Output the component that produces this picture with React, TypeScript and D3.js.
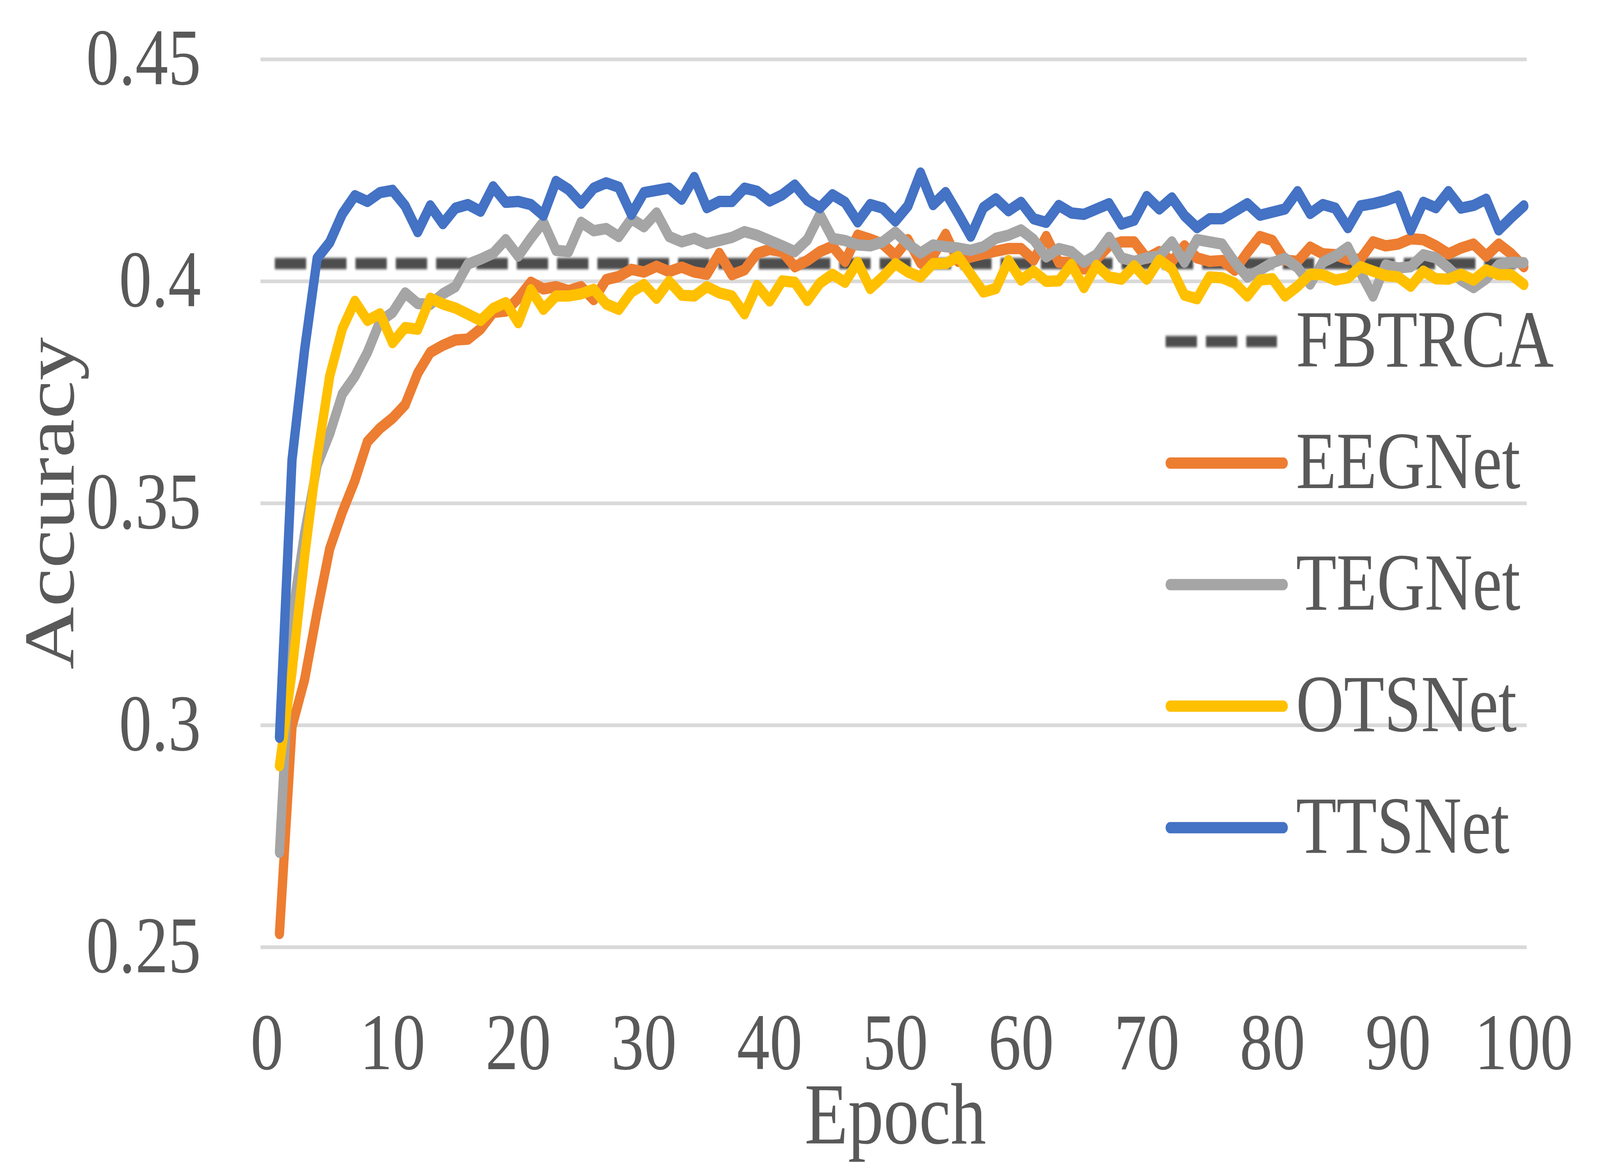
import React, { useEffect } from 'react';
import * as d3 from 'd3';

// epochs 1..100
const epochs = d3.range(1, 101);

const seriesNames = ['FBTRCA', 'EEGNet', 'TEGNet', 'OTSNet', 'TTSNet'];
const seriesColors = ['#4d4d4d', '#ED7D31', '#A5A5A5', '#FFC000', '#4472C4'];

// FBTRCA is a single reference accuracy (dashed line)
const fbtrcaAcc = 0.404;

const eegnet = [
  0.2531, 0.2997, 0.3103, 0.3256, 0.3398, 0.3480, 0.3551, 0.3639, 0.3669, 0.3692,
  0.3722, 0.3793, 0.3840, 0.3856, 0.3868, 0.3870, 0.3893, 0.3930, 0.3933, 0.3962,
  0.3998, 0.3983, 0.3988, 0.3979, 0.3988, 0.3959, 0.4004, 0.4011, 0.4027, 0.4021,
  0.4034, 0.4022, 0.4032, 0.4021, 0.4016, 0.4063, 0.4015, 0.4026, 0.4063, 0.4072,
  0.4067, 0.4033, 0.4047, 0.4067, 0.4079, 0.4045, 0.4104, 0.4095, 0.4084, 0.4058,
  0.4094, 0.4042, 0.4057, 0.4106, 0.4045, 0.4055, 0.4062, 0.4068, 0.4074, 0.4074,
  0.4048, 0.4101, 0.4043, 0.4042, 0.4028, 0.4050, 0.4080, 0.4089, 0.4089, 0.4052,
  0.4067, 0.4045, 0.4080, 0.4053, 0.4045, 0.4047, 0.4025, 0.4065, 0.4101, 0.4092,
  0.4048, 0.4045, 0.4077, 0.4062, 0.4060, 0.4050, 0.4050, 0.4089, 0.4080, 0.4084,
  0.4096, 0.4094, 0.4080, 0.4062, 0.4075, 0.4084, 0.4057, 0.4084, 0.4062, 0.4033,
];

const tegnet = [
  0.2714, 0.3244, 0.3433, 0.3586, 0.3657, 0.3746, 0.3786, 0.3840, 0.3910, 0.3930,
  0.3974, 0.3950, 0.3948, 0.3972, 0.3988, 0.4039, 0.4050, 0.4063, 0.4094, 0.4057,
  0.4097, 0.4134, 0.4070, 0.4067, 0.4133, 0.4114, 0.4119, 0.4101, 0.4141, 0.4123,
  0.4154, 0.4101, 0.4089, 0.4097, 0.4085, 0.4092, 0.4099, 0.4112, 0.4104, 0.4092,
  0.4080, 0.4067, 0.4094, 0.4151, 0.4097, 0.4092, 0.4082, 0.4080, 0.4089, 0.4111,
  0.4084, 0.4064, 0.4082, 0.4078, 0.4075, 0.4070, 0.4078, 0.4097, 0.4104, 0.4116,
  0.4094, 0.4055, 0.4074, 0.4067, 0.4043, 0.4060, 0.4099, 0.4053, 0.4045, 0.4053,
  0.4057, 0.4089, 0.4043, 0.4094, 0.4089, 0.4084, 0.4043, 0.4010, 0.4025, 0.4042,
  0.4052, 0.4031, 0.3994, 0.4043, 0.4057, 0.4077, 0.4020, 0.3967, 0.4037, 0.4030,
  0.4033, 0.4060, 0.4053, 0.4030, 0.4003, 0.3986, 0.4006, 0.4037, 0.4043, 0.4042,
];

const otsnet = [
  0.2909, 0.3120, 0.3380, 0.3604, 0.3787, 0.3893, 0.3955, 0.3912, 0.3927, 0.3862,
  0.3896, 0.3892, 0.3962, 0.3949, 0.3940, 0.3926, 0.3912, 0.3939, 0.3952, 0.3907,
  0.3981, 0.3937, 0.3967, 0.3967, 0.3972, 0.3982, 0.3949, 0.3937, 0.3976, 0.3993,
  0.3962, 0.4000, 0.3969, 0.3967, 0.3988, 0.3974, 0.3967, 0.3927, 0.3991, 0.3956,
  0.4001, 0.3998, 0.3957, 0.3996, 0.4016, 0.3998, 0.4043, 0.3984, 0.4010, 0.4040,
  0.4021, 0.4010, 0.4040, 0.4040, 0.4056, 0.4016, 0.3976, 0.3984, 0.4047, 0.4003,
  0.4023, 0.4000, 0.4001, 0.4038, 0.3986, 0.4036, 0.4010, 0.4005, 0.4035, 0.4005,
  0.4048, 0.4028, 0.3969, 0.3961, 0.4010, 0.4008, 0.3996, 0.3967, 0.4003, 0.4006,
  0.3967, 0.3989, 0.4016, 0.4015, 0.4003, 0.4008, 0.4033, 0.4023, 0.4013, 0.4010,
  0.3989, 0.4023, 0.4006, 0.4005, 0.4016, 0.4003, 0.4026, 0.4015, 0.4015, 0.3993,
];

const ttsnet = [
  0.2973, 0.3598, 0.3846, 0.4052, 0.4088, 0.4152, 0.4193, 0.4180, 0.4200, 0.4205,
  0.4170, 0.4112, 0.4170, 0.4130, 0.4165, 0.4173, 0.4158, 0.4213, 0.4178, 0.4180,
  0.4173, 0.4149, 0.4225, 0.4207, 0.4176, 0.4210, 0.4222, 0.4212, 0.4151, 0.4200,
  0.4205, 0.4210, 0.4185, 0.4234, 0.4166, 0.4180, 0.4180, 0.4210, 0.4203, 0.4181,
  0.4195, 0.4217, 0.4183, 0.4166, 0.4195, 0.4178, 0.4134, 0.4173, 0.4165, 0.4136,
  0.4170, 0.4244, 0.4173, 0.4200, 0.4152, 0.4102, 0.4166, 0.4186, 0.4159, 0.4178,
  0.4141, 0.4133, 0.4171, 0.4154, 0.4151, 0.4163, 0.4175, 0.4129, 0.4138, 0.4191,
  0.4163, 0.4188, 0.4148, 0.4121, 0.4141, 0.4141, 0.4158, 0.4175, 0.4149, 0.4156,
  0.4163, 0.4202, 0.4153, 0.4173, 0.4165, 0.4121, 0.4170, 0.4175, 0.4182, 0.4192,
  0.4116, 0.4178, 0.4166, 0.4202, 0.4165, 0.4171, 0.4185, 0.4116, 0.4144, 0.4170,
];

const yTicks = [0.25, 0.3, 0.35, 0.4, 0.45];
const xTicks = [0, 10, 20, 30, 40, 50, 60, 70, 80, 90, 100];

const W = 5000;
const H = 2994;
const FONT = '"Liberation Serif", "Times New Roman", serif';
const TEXT = '#595959';

const App: React.FC = () => {
  useEffect(() => {
    document.body.style.margin = '0';
    document.body.style.overflow = 'hidden';
  }, []);

  const x = d3.scaleLinear().domain([0, 100]).range([834, 4762]);
  const y = d3.scaleLinear().domain([0.25, 0.45]).range([2424, 152]);
  const gridLeft = 814;
  const gridRight = 4771;

  const line = d3
    .line<number>()
    .x((d, i) => x(epochs[i]))
    .y(d => y(d));

  const solidSeries = [eegnet, tegnet, otsnet, ttsnet];

  const legendX0 = 3657;
  const legendX1 = 4010;
  const legendTop = 874;
  const legendStep = 311;

  return (
    <svg
      viewBox={`0 0 ${W} ${H}`}
      preserveAspectRatio="none"
      style={{ display: 'block', width: '100vw', height: '100vh' }}
    >
      <defs>
        <filter id="soft" filterUnits="userSpaceOnUse" x={0} y={0} width={W} height={H}>
          <feGaussianBlur stdDeviation="3" />
        </filter>
      </defs>
      <rect width={W} height={H} fill="#ffffff" />

      {/* gridlines */}
      {yTicks.map(t => (
        <line
          key={t}
          x1={gridLeft}
          x2={gridRight}
          y1={y(t)}
          y2={y(t)}
          stroke="#D9D9D9"
          strokeWidth={9.5}
        />
      ))}

      {/* y tick labels */}
      {yTicks.map(t => (
        <text
          key={t}
          x={628}
          y={y(t) + 64}
          textAnchor="end"
          fontFamily={FONT}
          fontSize={205}
          fill={TEXT}
        >
          {String(t)}
        </text>
      ))}

      {/* x tick labels */}
      {xTicks.map(t => (
        <text
          key={t}
          x={x(t)}
          y={2736}
          textAnchor="middle"
          fontFamily={FONT}
          fontSize={205}
          fill={TEXT}
        >
          {t}
        </text>
      ))}

      {/* FBTRCA baseline */}
      <line
        x1={x(epochs[0])}
        x2={x(epochs[epochs.length - 1])}
        y1={y(fbtrcaAcc)}
        y2={y(fbtrcaAcc)}
        stroke={seriesColors[0]}
        strokeWidth={29}
        strokeDasharray="69 57"
        strokeLinecap="square"
        filter="url(#soft)"
      />

      {/* series */}
      {solidSeries.map((s, k) => (
        <path
          key={seriesNames[k + 1]}
          d={line(s) || ''}
          fill="none"
          stroke={seriesColors[k + 1]}
          strokeWidth={29}
          strokeLinejoin="round"
          strokeLinecap="round"
        />
      ))}

      {/* legend */}
      {seriesNames.map((name, i) => {
        const cy = legendTop + i * legendStep;
        const dashed = i === 0;
        return (
          <g key={name}>
            <line
              x1={legendX0}
              x2={dashed ? 3976 : legendX1}
              y1={cy}
              y2={cy}
              stroke={seriesColors[i]}
              strokeWidth={29}
              strokeLinecap={dashed ? 'square' : 'round'}
              strokeDasharray={dashed ? '69 57' : undefined}
              filter={dashed ? 'url(#soft)' : undefined}
            />
            <text
              x={4050}
              y={cy + 64}
              fontFamily={FONT}
              fontSize={207}
              fill={TEXT}
            >
              {name}
            </text>
          </g>
        );
      })}

      {/* axis titles */}
      <text
        x={(x(0) + x(100)) / 2}
        y={2926}
        textAnchor="middle"
        fontFamily={FONT}
        fontSize={222}
        fill={TEXT}
      >
        Epoch
      </text>
      <text
        transform={`translate(230,${(y(0.25) + y(0.45)) / 2}) rotate(-90)`}
        textAnchor="middle"
        fontFamily={FONT}
        fontSize={222}
        fill={TEXT}
      >
        Accuracy
      </text>
    </svg>
  );
};

export default App;
